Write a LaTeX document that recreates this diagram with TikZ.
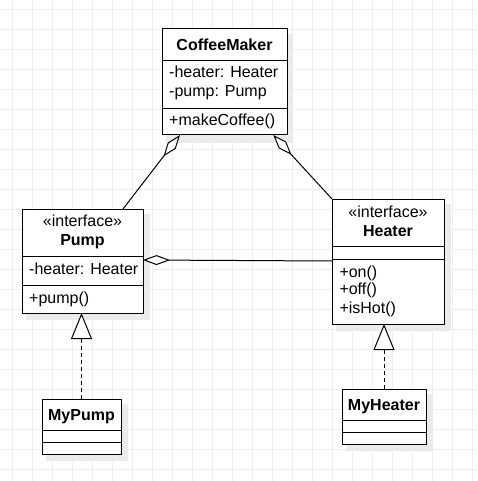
\documentclass[tikz,border=0pt]{standalone}
\usepackage{fontspec}
\setmainfont{Liberation Sans}
\usetikzlibrary{arrows.meta,calc}
\definecolor{gridc}{HTML}{EEEEEE}
\definecolor{shadowc}{HTML}{EBEBEB}
\tikzset{
  umlbox/.style={draw=black, line width=1pt, fill=white, anchor=north west, inner sep=0pt, outer sep=0pt},
  umlshadow/.style={fill=shadowc, draw=none},
  sepline/.style={draw=black, line width=1pt},
  txt/.style={anchor=base west, inner sep=0pt, font=\fontsize{16}{19}\selectfont},
  ctxt/.style={anchor=base, inner sep=0pt, font=\fontsize{16}{19}\selectfont},
  btxt/.style={anchor=base, inner sep=0pt, font=\fontsize{16}{19}\selectfont\bfseries},
  agg/.style={draw=black, line width=1pt, -{Diamond[fill=white, length=27pt, width=10pt]}},
  real/.style={draw=black, line width=1pt, dash pattern=on 4pt off 3pt, -{Triangle[fill=white, length=26pt, width=21pt]}},
}
\begin{document}
\begin{tikzpicture}[x=1pt, y=-1pt]
\useasboundingbox (0,0) rectangle (477,481);
% grid
\foreach \k in {0,...,23} {
  \draw[gridc, line width=1pt] ({12.7+20*\k},0) -- ({12.7+20*\k},481);
  \draw[gridc, line width=1pt] (0,{9.3+20*\k}) -- (477,{9.3+20*\k});
}
% shadows
\fill[umlshadow] (166,34) rectangle (293,143);
\fill[umlshadow] (26,214) rectangle (150,320);
\fill[umlshadow] (336,204) rectangle (451,331);
\fill[umlshadow] (46,404) rectangle (128,461);
\fill[umlshadow] (346,394) rectangle (433,451);
% boxes
\node[umlbox, minimum width=125pt, minimum height=106pt] (cm) at (162,29) {};
\node[umlbox, minimum width=121pt, minimum height=104pt] (pump) at (22,209) {};
\node[umlbox, minimum width=112pt, minimum height=125pt] (heater) at (332,199) {};
\node[umlbox, minimum width=79pt, minimum height=55pt] (mypump) at (42,399) {};
\node[umlbox, minimum width=84pt, minimum height=55pt] (myheater) at (342,389) {};
% separators
\draw[sepline] (162,60.7) -- (287,60.7);
\draw[sepline] (162,108.3) -- (287,108.3);
\draw[sepline] (22,256.7) -- (143,256.7);
\draw[sepline] (22,285) -- (143,285);
\draw[sepline] (332,246.7) -- (444,246.7);
\draw[sepline] (332,259.3) -- (444,259.3);
\draw[sepline] (42,430.3) -- (121,430.3);
\draw[sepline] (42,442.7) -- (121,442.7);
\draw[sepline] (342,420) -- (426,420);
\draw[sepline] (342,432.7) -- (426,432.7);
% texts
\node[btxt] (cmT) at (224.5,50.7) {CoffeeMaker};
\node[txt] (cmA1) at (169,78) {-heater: Heater};
\node[txt] (cmA2) at (169,96.7) {-pump: Pump};
\node[txt] (cmM1) at (169,125.7) {+makeCoffee()};
\node[ctxt] (pumpS) at (82.5,226.5) {«interface»};
\node[btxt] (pumpT) at (82.5,245.5) {Pump};
\node[txt] (pumpA1) at (29,274.5) {-heater: Heater};
\node[txt] (pumpM1) at (29,303) {+pump()};
\node[ctxt] (heaterS) at (388,217.2) {«interface»};
\node[btxt] (heaterT) at (388,236.2) {Heater};
\node[txt] (heaterM1) at (339.3,277.2) {+on()};
\node[txt] (heaterM2) at (339.3,294.8) {+off()};
\node[txt] (heaterM3) at (339.3,313.8) {+isHot()};
\node[btxt] (mypumpT) at (81.5,420.5) {MyPump};
\node[btxt] (myheaterT) at (384,410.5) {MyHeater};
% connector end points
\coordinate (cmL) at ($(cm.south west)+(18,0)$);
\coordinate (cmR) at ($(cm.south west)+(111.3,0)$);
\coordinate (pumpTop) at ($(pump.north west)+(101,0)$);
\coordinate (pumpRight) at ($(pump.north east)+(0,51)$);
\coordinate (heaterLeft) at ($(heater.north west)+(0,62)$);
\coordinate (heaterBot) at (myheater.north |- heater.south);
\coordinate (pumpBot) at (mypump.north |- pump.south);
% connectors
\draw[agg] (pumpTop) -- (cmL);
\draw[agg] (heater.north west) -- (cmR);
\draw[agg] (heaterLeft) -- (pumpRight);
\draw[real] (mypump.north) -- (pumpBot);
\draw[real] (myheater.north) -- (heaterBot);
\end{tikzpicture}
\end{document}
